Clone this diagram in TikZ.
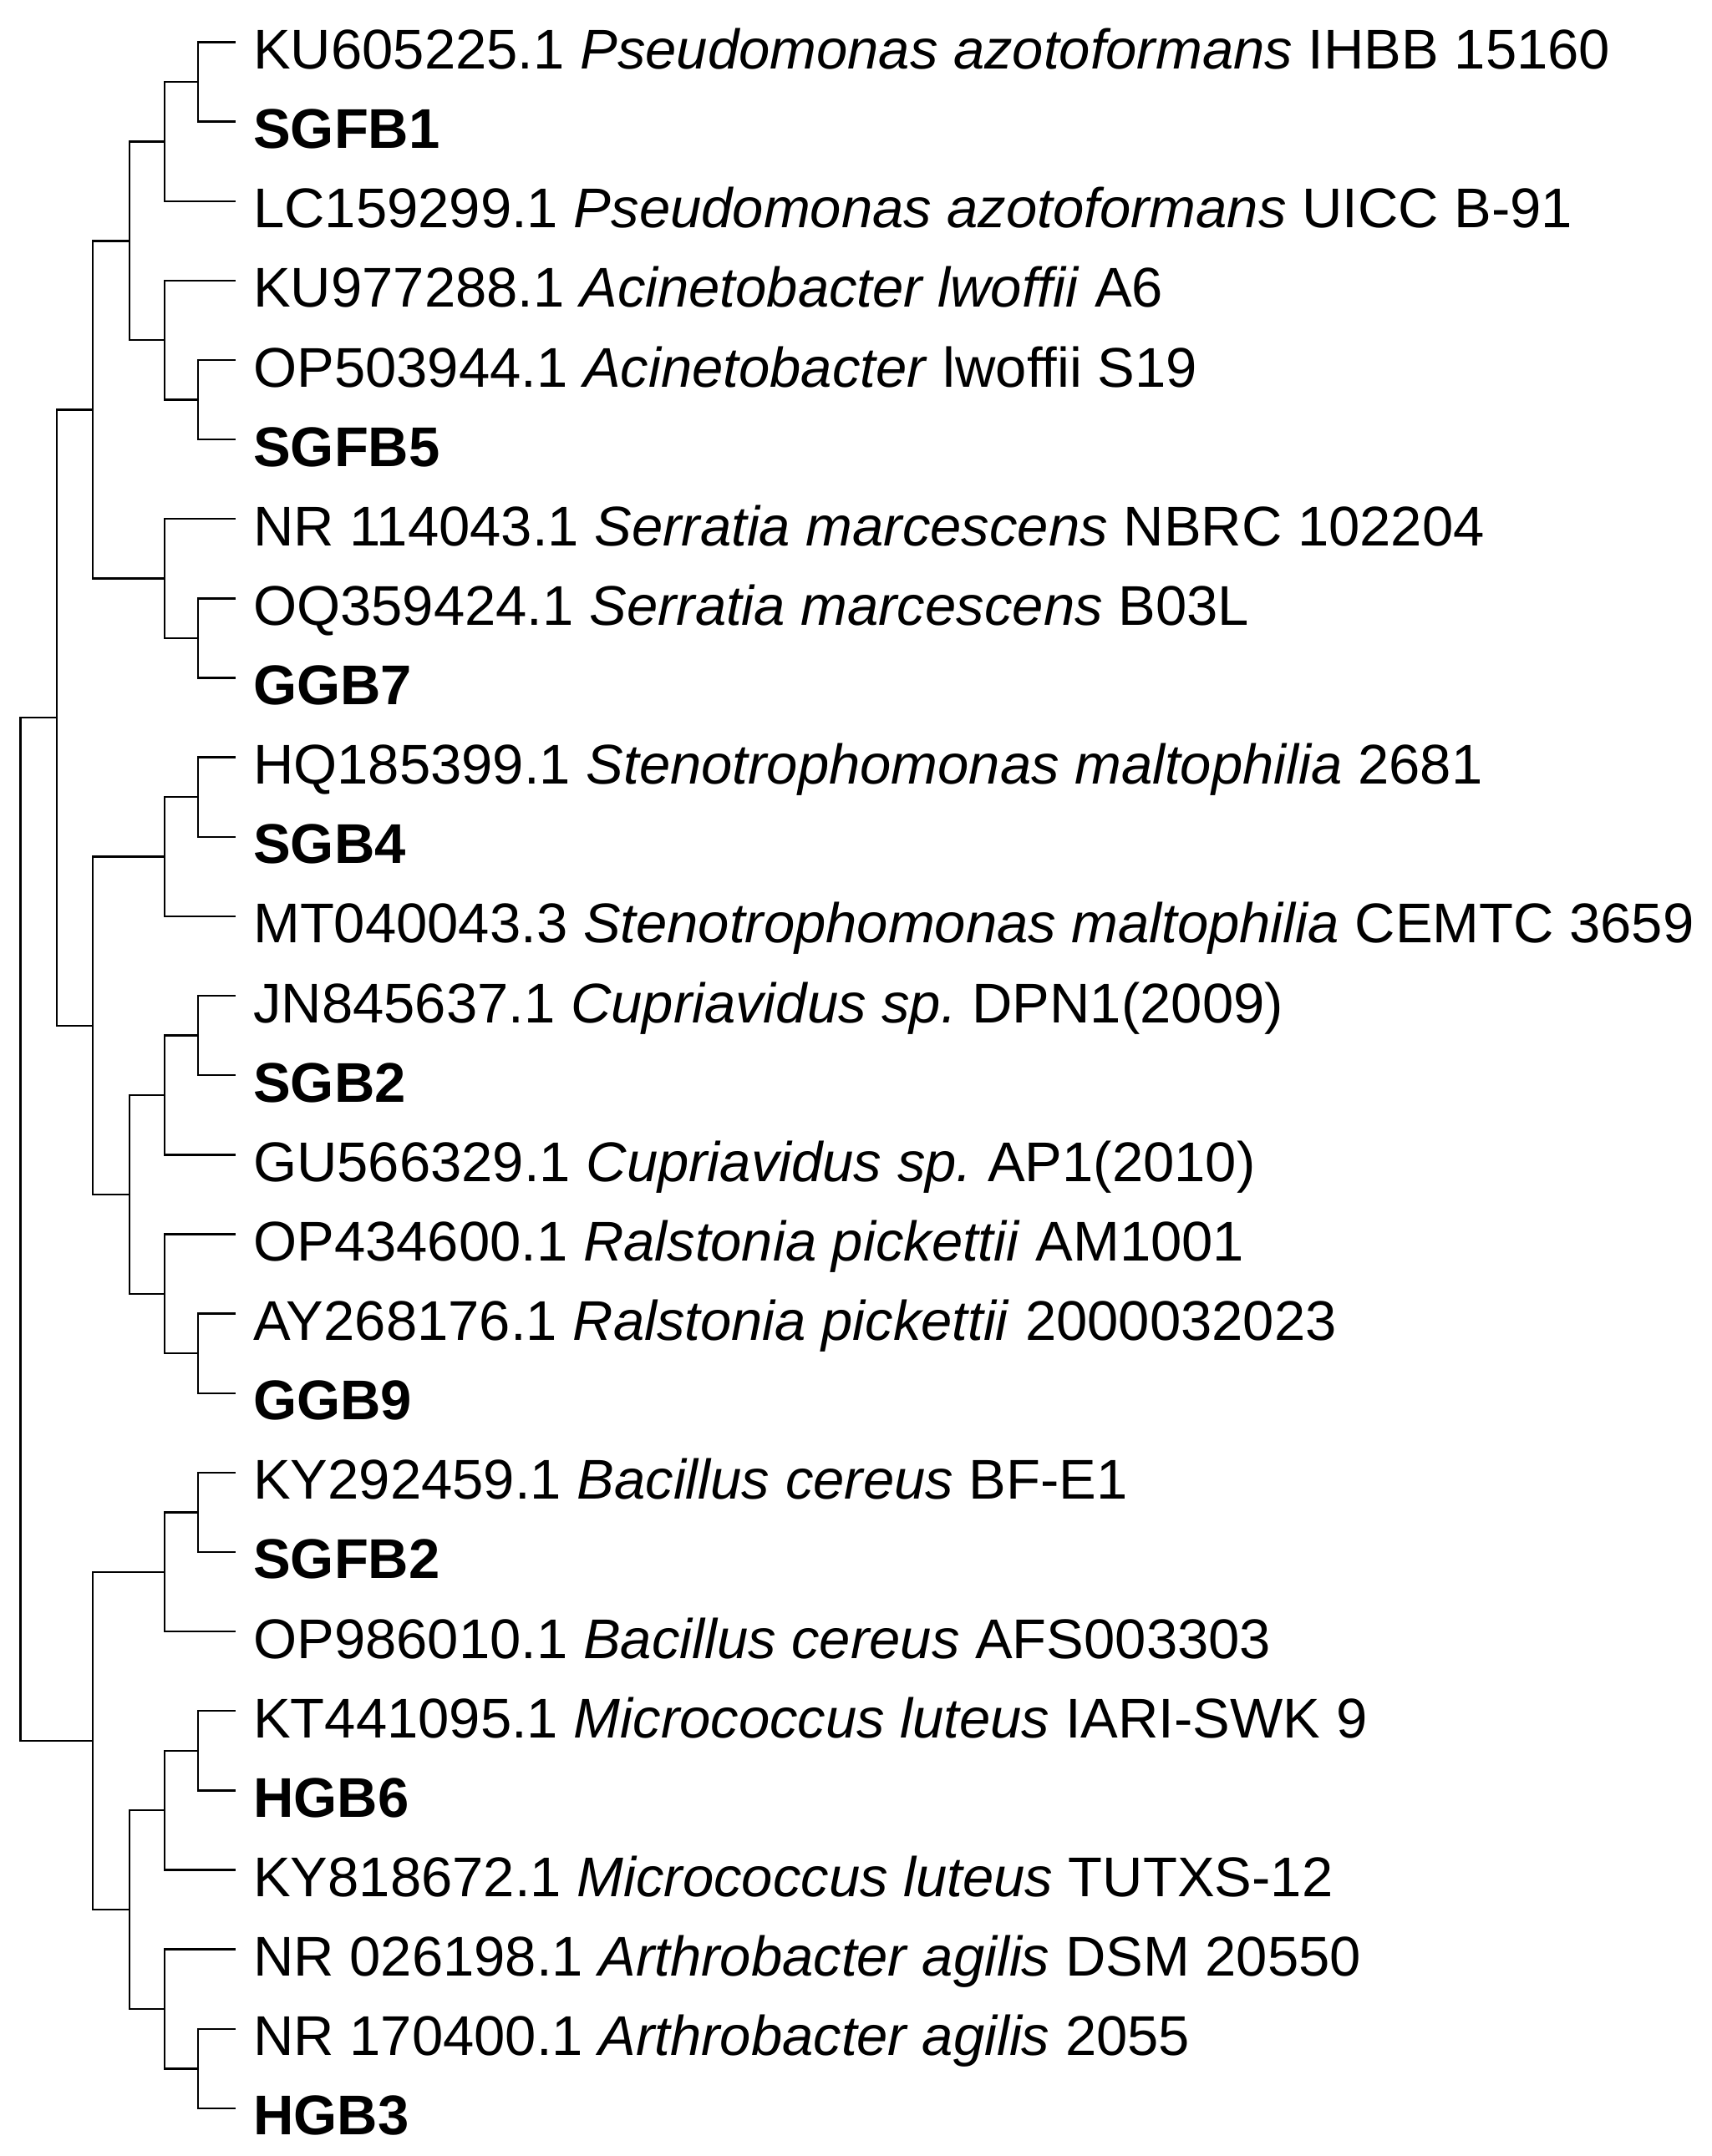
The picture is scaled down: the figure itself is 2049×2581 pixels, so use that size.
\documentclass[tikz,border=0pt]{standalone}
\usepackage{fontspec}
\setmainfont{Liberation Sans}
\newcommand\leafy[1]{50.5+95.13*#1}
\frenchspacing
\begin{document}
\begin{tikzpicture}[x=1pt,y=-1pt,
  branch/.style={line width=2.4pt, line join=miter},
  leaflabel/.style={anchor=base west, inner sep=0pt, font=\fontsize{67}{80}\selectfont}]
\useasboundingbox (0,0) rectangle (2049,2581);
\foreach \i in {0,...,26} { \coordinate (t\i) at (282,{\leafy{\i}}); }
% clade coordinates
\coordinate (cA1) at (237,{\leafy{0.5}});
\coordinate (cA) at (197,{\leafy{1.25}});
\coordinate (cB1) at (237,{\leafy{4.5}});
\coordinate (cB) at (197,{\leafy{3.75}});
\coordinate (cAB) at (155,{\leafy{2.5}});
\coordinate (cC1) at (237,{\leafy{7.5}});
\coordinate (cC) at (197,{\leafy{6.75}});
\coordinate (cABC) at (111,{\leafy{4.625}});
\coordinate (cD1) at (237,{\leafy{9.5}});
\coordinate (cD) at (197,{\leafy{10.25}});
\coordinate (cE1) at (237,{\leafy{12.5}});
\coordinate (cE) at (197,{\leafy{13.25}});
\coordinate (cF1) at (237,{\leafy{16.5}});
\coordinate (cF) at (197,{\leafy{15.75}});
\coordinate (cEF) at (155,{\leafy{14.5}});
\coordinate (cDEF) at (111,{\leafy{12.375}});
\coordinate (cTop) at (68,{\leafy{8.5}});
\coordinate (cG1) at (237,{\leafy{18.5}});
\coordinate (cG) at (197,{\leafy{19.25}});
\coordinate (cH1) at (237,{\leafy{21.5}});
\coordinate (cH) at (197,{\leafy{22.25}});
\coordinate (cI1) at (237,{\leafy{25.5}});
\coordinate (cI) at (197,{\leafy{24.75}});
\coordinate (cHI) at (155,{\leafy{23.5}});
\coordinate (cGHI) at (111,{\leafy{21.375}});
\coordinate (root) at (24.6,{\leafy{14.9375}});
% branches
\draw[branch] (t0) -| (cA1) |- (t1);
\draw[branch] (cA1) -| (cA) |- (t2);
\draw[branch] (t4) -| (cB1) |- (t5);
\draw[branch] (t3) -| (cB) |- (cB1);
\draw[branch] (cA) -| (cAB) |- (cB);
\draw[branch] (t7) -| (cC1) |- (t8);
\draw[branch] (t6) -| (cC) |- (cC1);
\draw[branch] (cAB) -| (cABC) |- (cC);
\draw[branch] (t9) -| (cD1) |- (t10);
\draw[branch] (cD1) -| (cD) |- (t11);
\draw[branch] (t12) -| (cE1) |- (t13);
\draw[branch] (cE1) -| (cE) |- (t14);
\draw[branch] (t16) -| (cF1) |- (t17);
\draw[branch] (t15) -| (cF) |- (cF1);
\draw[branch] (cE) -| (cEF) |- (cF);
\draw[branch] (cD) -| (cDEF) |- (cEF);
\draw[branch] (cABC) -| (cTop) |- (cDEF);
\draw[branch] (t18) -| (cG1) |- (t19);
\draw[branch] (cG1) -| (cG) |- (t20);
\draw[branch] (t21) -| (cH1) |- (t22);
\draw[branch] (cH1) -| (cH) |- (t23);
\draw[branch] (t25) -| (cI1) |- (t26);
\draw[branch] (t24) -| (cI) |- (cI1);
\draw[branch] (cH) -| (cHI) |- (cI);
\draw[branch] (cG) -| (cGHI) |- (cHI);
\draw[branch] (cTop) -| (root) |- (cGHI);
% labels
\foreach \i/\t in {
 0/{KU605225.1 \textit{Pseudomonas azotoformans} IHBB 15160},
 1/{\textbf{SGFB1}},
 2/{LC159299.1 \textit{Pseudomonas azotoformans} UICC B-91},
 3/{KU977288.1 \textit{Acinetobacter lwoffii} A6},
 4/{OP503944.1 \textit{Acinetobacter} lwoffii S19},
 5/{\textbf{SGFB5}},
 6/{NR 114043.1 \textit{Serratia marcescens} NBRC 102204},
 7/{OQ359424.1 \textit{Serratia marcescens} B03L},
 8/{\textbf{GGB7}},
 9/{HQ185399.1 \textit{Stenotrophomonas maltophilia} 2681},
 10/{\textbf{SGB4}},
 11/{MT040043.3 \textit{Stenotrophomonas maltophilia} CEMTC 3659},
 12/{JN845637.1 \textit{Cupriavidus sp.} DPN1(2009)},
 13/{\textbf{SGB2}},
 14/{GU566329.1 \textit{Cupriavidus sp.} AP1(2010)},
 15/{OP434600.1 \textit{Ralstonia pickettii} AM1001},
 16/{AY268176.1 \textit{Ralstonia pickettii} 2000032023},
 17/{\textbf{GGB9}},
 18/{KY292459.1 \textit{Bacillus cereus} BF-E1},
 19/{\textbf{SGFB2}},
 20/{OP986010.1 \textit{Bacillus cereus} AFS003303},
 21/{KT441095.1 \textit{Micrococcus luteus} IARI-SWK 9},
 22/{\textbf{HGB6}},
 23/{KY818672.1 \textit{Micrococcus luteus} TUTXS-12},
 24/{NR 026198.1 \textit{Arthrobacter agilis} DSM 20550},
 25/{NR 170400.1 \textit{Arthrobacter agilis} 2055},
 26/{\textbf{HGB3}}}
 { \node[leaflabel] (n\i) at ([shift={(21,32)}]t\i) {\t}; }
\end{tikzpicture}
\end{document}
